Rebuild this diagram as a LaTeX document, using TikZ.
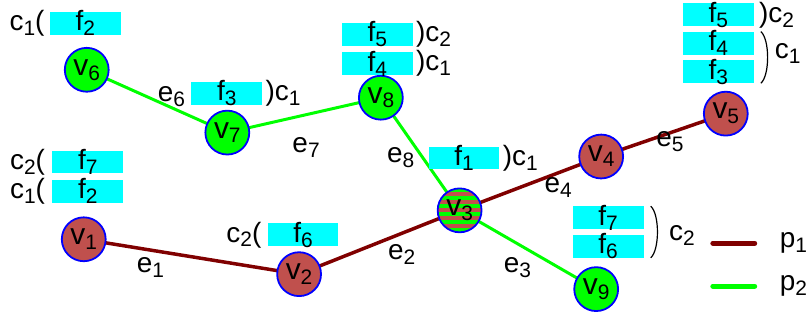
\documentclass[tikz,border=0pt]{standalone}
\usepackage{fontspec}
\setmainfont{Liberation Sans}
\usetikzlibrary{positioning, calc, backgrounds}

\definecolor{vred}{RGB}{192,80,77}
\definecolor{pone}{RGB}{128,0,0}
\definecolor{ptwo}{RGB}{0,255,0}
\definecolor{fbox}{RGB}{0,255,255}

\newcommand{\subs}[1]{\raisebox{-5pt}{\fontsize{21}{21}\selectfont #1}}

\begin{document}
\begin{tikzpicture}[
  x=1pt, y=-1pt,
  every node/.style={font=\fontsize{28}{30}\selectfont},
  vtx/.style={circle, draw=blue, line width=1.8pt, minimum size=44pt, inner sep=0pt,
    font=\fontsize{30}{30}\selectfont},
  vg/.style={vtx, fill=ptwo},
  vr/.style={vtx, fill=vred},
  vs/.style={vtx, fill=ptwo, path picture={
      \foreach \k in {-3,...,3}
        \fill[vred] ($(path picture bounding box.center)+(-30,8*\k-2)$) rectangle ++(60,4);}},
  fb/.style={rectangle, fill=fbox, minimum width=71pt, text height=19pt, text depth=4pt, inner sep=0pt},
  lbl/.style={inner sep=0pt},
  pa/.style={pone, line width=3.5pt},
  pb/.style={ptwo, line width=3pt},
  brace/.style={line width=1.2pt},
]

% Vertices
\node[vr] (v1) at (84,240) {v\subs{1}};
\node[vr] (v2) at (300,275) {v\subs{2}};
\node[vs] (v3) at (461,211) {v\subs{3}};
\node[vr] (v4) at (603,157) {v\subs{4}};
\node[vr] (v5) at (728,114) {v\subs{5}};
\node[vg] (v6) at (87,70) {v\subs{6}};
\node[vg] (v7) at (228,133) {v\subs{7}};
\node[vg] (v8) at (382,98) {v\subs{8}};
\node[vg] (v9) at (598,290) {v\subs{9}};

% Paths p1 and p2
\begin{scope}[on background layer]
\draw[pa] (v1.center) -- (v2.center) -- (v3.center) -- (v4.center) -- (v5.center);
\draw[pb] (v6.center) -- (v7.center) -- (v8.center) -- (v3.center) -- (v9.center);
\end{scope}

% Edge labels
\node (e1) at (151,268) {e\subs{1}};
\node (e2) at (403,255) {e\subs{2}};
\node (e3) at (519,268) {e\subs{3}};
\node (e4) at (560,188) {e\subs{4}};
\node (e5) at (672,142) {e\subs{5}};
\node (e6) at (172,97) {e\subs{6}};
\node (e7) at (307,148) {e\subs{7}};
\node (e8) at (402,158) {e\subs{8}};

% Boxes at v6, v7
\node[fb] (b6) at (85.5,23.5) {f\subs{2}};
\node[lbl, left=5pt of b6] (l6) {c\subs{1}(};
\node[fb] (b7) at (227.5,93.5) {f\subs{3}};
\node[lbl, right=3pt of b7] (l7) {)c\subs{1}};

% Boxes at v8
\node[fb] (b8a) at (378.5,34.5) {f\subs{5}};
\node[fb, below=6pt of b8a] (b8b) {f\subs{4}};
\node[lbl, right=3pt of b8a] (l8a) {)c\subs{2}};
\node[lbl, right=3pt of b8b] (l8b) {)c\subs{1}};

% Boxes at v1, v2, v3
\node[fb] (b1a) at (88,162.5) {f\subs{7}};
\node[fb, below=6pt of b1a] (b1b) {f\subs{2}};
\node[lbl, left=7pt of b1a] (l1a) {c\subs{2}(};
\node[lbl, left=7pt of b1b] (l1b) {c\subs{1}(};
\node[fb] (b2) at (304,235.5) {f\subs{6}};
\node[lbl, left=6pt of b2] (l2) {c\subs{2}(};
\node[fb] (b3) at (465.5,158.5) {f\subs{1}};
\node[lbl, right=3pt of b3] (l3) {)c\subs{1}};

% Boxes at v5
\node[fb] (b5a) at (720.5,15) {f\subs{5}};
\node[fb, below=5pt of b5a] (b5b) {f\subs{4}};
\node[fb, below=5pt of b5b] (b5c) {f\subs{3}};
\node[lbl, right=5pt of b5a] (l5a) {)c\subs{2}};
\draw[brace] ($(b5b.north east)+(7,0)$) .. controls ($(b5b.north east)+(16,8)$) and ($(b5c.south east)+(16,-8)$) .. ($(b5c.south east)+(7,0)$);
\node[lbl] (l5b) at (790,54) {c\subs{1}};

% Boxes at v9
\node[fb] (b9a) at (610,218.5) {f\subs{7}};
\node[fb, below=5pt of b9a] (b9b) {f\subs{6}};
\draw[brace] ($(b9a.north east)+(7,0)$) .. controls ($(b9a.north east)+(16,8)$) and ($(b9b.south east)+(16,-8)$) .. ($(b9b.south east)+(7,0)$);
\node[lbl] (l9) at (684,236) {c\subs{2}};

% Legend
\coordinate (g1a) at (715,244);
\coordinate (g1b) at (757,244);
\coordinate (g2a) at (715,287);
\coordinate (g2b) at (757,287);
\draw[pone, line width=5pt, line cap=round] (g1a) -- (g1b);
\draw[ptwo, line width=5pt, line cap=round] (g2a) -- (g2b);
\node[lbl, anchor=west] (p1) at (782,244) {p\subs{1}};
\node[lbl, anchor=west] (p2) at (782,287) {p\subs{2}};

\useasboundingbox (0,0) rectangle (807,320);
\end{tikzpicture}
\end{document}
